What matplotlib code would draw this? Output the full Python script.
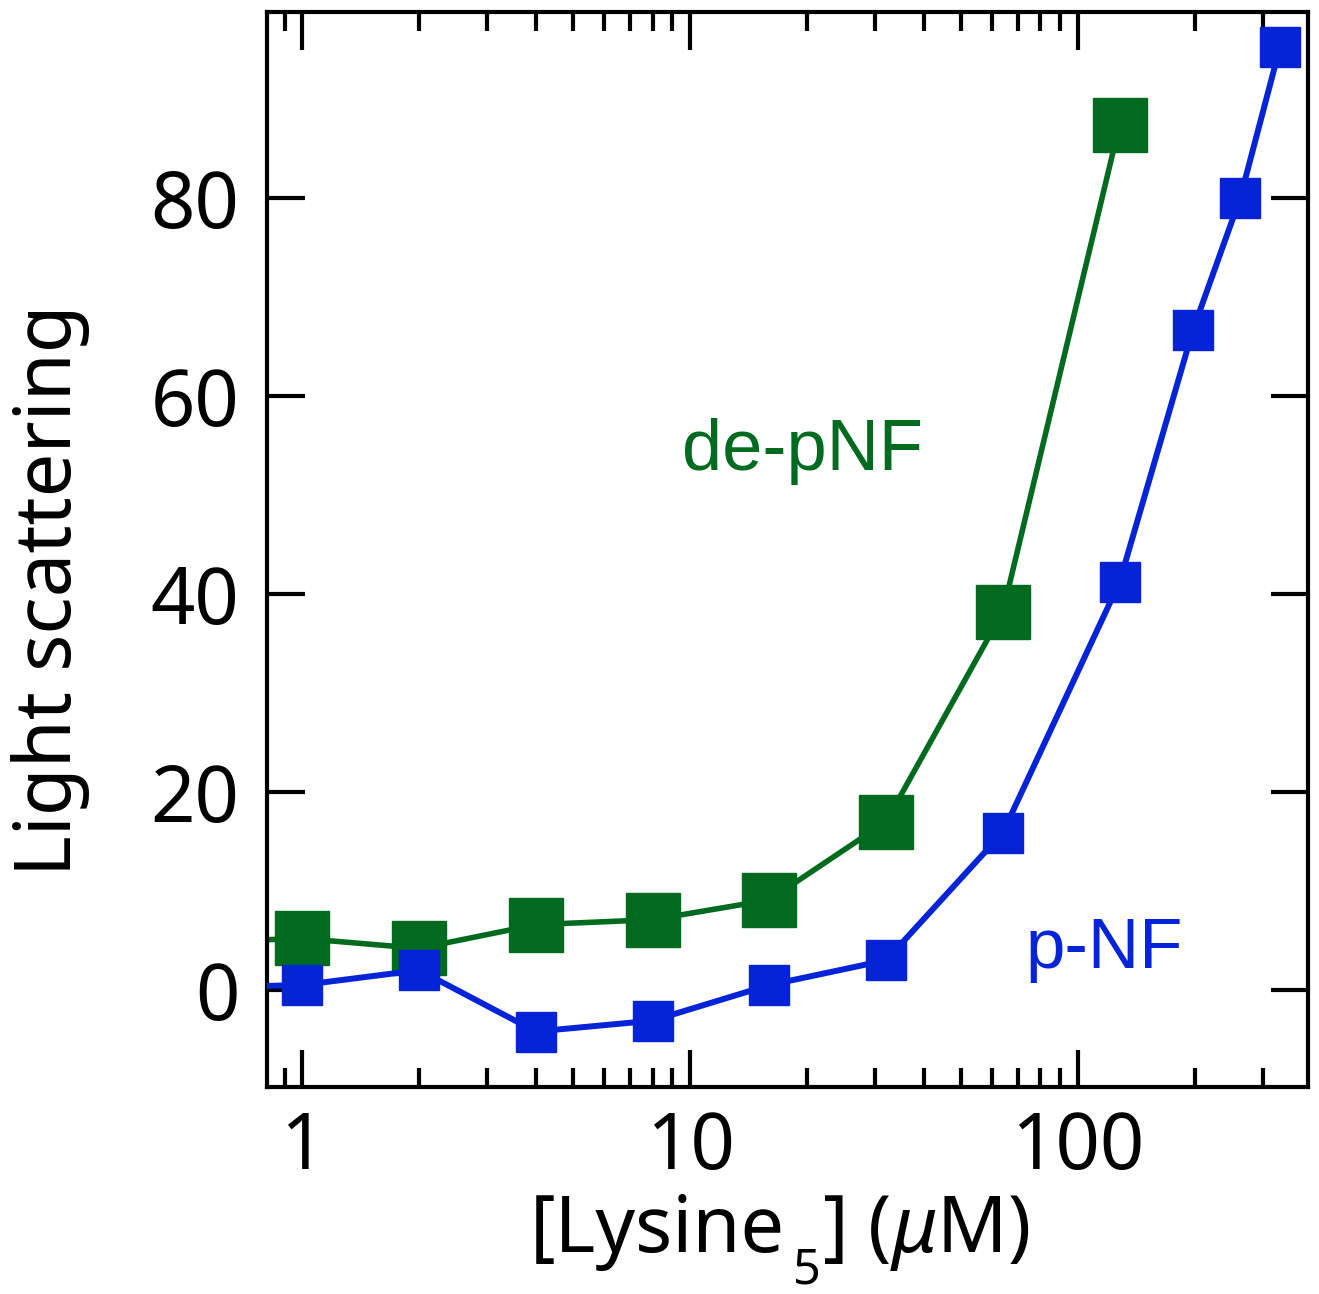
import matplotlib
matplotlib.use("Agg")
import matplotlib.pyplot as plt
from matplotlib.ticker import LogLocator, FixedLocator, NullFormatter

# Data
green_x = [0.5, 1, 2, 4, 8, 16, 32, 64, 128]
green_y = [4.8, 5.2, 4.2, 6.6, 7.1, 9.1, 17.0, 38.2, 87.4]
blue_x = [0.5, 1, 2, 4, 8, 16, 32, 64, 128, 198, 262, 332]
blue_y = [0.2, 0.5, 2.0, -4.2, -3.1, 0.5, 3.0, 15.9, 41.2, 66.7, 80.0, 95.3]
y_ticks = [0, 20, 40, 60, 80]
x_ticks = [1, 10, 100]
x_tick_labels = ["1", "10", "100"]

green = "#006B1F"
blue = "#0523D7"

plt.rcParams['font.family'] = ['Noto Sans', 'DejaVu Sans']
plt.rcParams['mathtext.fontset'] = 'custom'
plt.rcParams['mathtext.rm'] = 'Noto Sans'
plt.rcParams['mathtext.it'] = 'Noto Sans:italic'

W, H = 1319, 1294
fig = plt.figure(figsize=(W / 100, H / 100), dpi=100)
ax = fig.add_axes([0.2024, 0.16, 0.9917 - 0.2024, 0.9907 - 0.16])

ax.plot(green_x, green_y, color=green, lw=4, marker='s', ms=39, mec=green, mfc=green, zorder=2)
ax.plot(blue_x, blue_y, color=blue, lw=4.3, marker='s', ms=28.5, mec=blue, mfc=blue, zorder=3)

ax.set_xscale('log')
ax.set_xlim(0.81, 392)
ax.set_ylim(-9.8, 98.8)

ax.xaxis.set_major_locator(FixedLocator(x_ticks))
ax.set_xticklabels(x_tick_labels)
ax.xaxis.set_minor_locator(LogLocator(base=10, subs=range(2, 10), numticks=20))
ax.xaxis.set_minor_formatter(NullFormatter())
ax.set_yticks(y_ticks)

for s in ax.spines.values():
    s.set_linewidth(3)

ax.tick_params(axis='both', which='major', direction='in', length=27, width=3,
               top=True, right=True, labelsize=56)
ax.tick_params(axis='x', which='major', pad=16)
ax.tick_params(axis='y', which='major', pad=20)
ax.tick_params(axis='x', which='minor', direction='in', length=14, width=3, top=True)

ax.set_ylabel("Light scattering", fontsize=56)
ax.yaxis.set_label_coords(-0.17, 0.462)

# x label built from pieces so the subscript sits low as in the original
fig.text(530 / W, 1 - 1252 / H, "[Lysine", fontsize=56, ha='left', va='baseline')
fig.text(793 / W, 1 - 1284 / H, "5", fontsize=35, ha='left', va='baseline')
fig.text(822 / W, 1 - 1252 / H, "] ($\\mu$M)", fontsize=56, ha='left', va='baseline')

ax.text(9.5, 52.5, "de-pNF", color=green, fontsize=52, family=['Liberation Sans'],
        ha='left', va='baseline')
ax.text(73, 2.2, "p-NF", color=blue, fontsize=51, family=['Liberation Sans'],
        ha='left', va='baseline')

fig.savefig("out.png", dpi=100)
